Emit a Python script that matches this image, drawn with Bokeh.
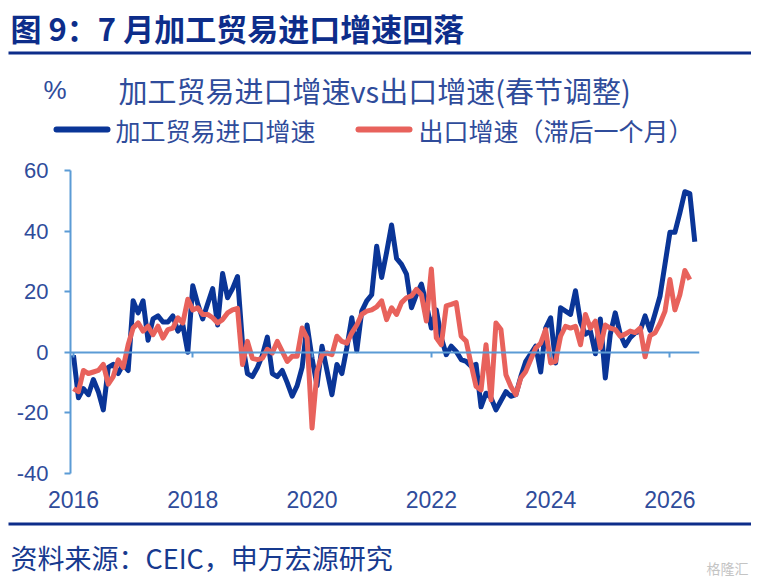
from bokeh.plotting import figure
from bokeh.layouts import column
from bokeh.models import Range1d, LinearAxis, FixedTicker, Label, BoxAnnotation
from bokeh.embed import file_html
from bokeh.resources import INLINE

# monthly series, index 0 = Jan 2016
processing_imports = [
    -1, -15, -12, -14, -9, -13, -19, -5, -4, -7, -4, -6,
    17, 13, 17, 4, 11, 12, 10, 10, 12, 7, 9, 0,
    22, 16, 11, 16, 21, 9, 26, 18, 21, 25, 3, -7,
    -8, -5, -1, 5, -7, -8, -6, -10, -14.5, -11, -5, 9,
    -2, -11, 2, -6, -14, -4, -7, 1.5, 11.4, 0.5, 13.6, 17,
    19, 35, 24.7, 33, 42, 31, 29, 25.8, 14.7, 19, 22.5, 15.8,
    8, 14, 4.8, -0.8, 2, 0.3, -2.4, -3, -4.6, -4, -18, -13.5,
    -15, -19, -16, -13, -14.5, -14, -8, -3, -0.5, 2, -6.5, 8,
    11.4, -3.5, 14.7, 13.6, 12.5, 20.3, 10, 6, 7, -0.5, 11, -8.5,
    6, 13, 6, 2.2, 4.8, 6.4, 7, 12, 7.2, 12.7, 18.5, 29,
    39.6, 39.6, 46, 53, 52.4, 36.5,
]
exports_lagged = [
    -12, -13, -6, -7, -6.5, -6, -4, -10.5, -8, -2.5, -5, 2.5,
    8, 9.7, 7, 8.6, 5.8, 8.6, 4.7, 7.5, 8, 11.4, 9.7, 17.5,
    14, 14.7, 12.5, 12.5, 11.4, 9.7, 10.8, 13, 14, 14.5, -4, 3.6,
    -2, -2.4, -2, 1, -0.2, 3.6, 0.3, -3, -1.3, -1.3, 8, 4.7,
    -25, -6.3, -0.8, -0.2, -0.8, 5.3, 3.6, 3, 6.4, 9, 12.5, 13.6,
    14, 15, 17, 10.8, 14.7, 12.5, 16.4, 18, 18.6, 20.8, 19, 10.3,
    27.5, 4.8, 2.5, 15.3, 15.8, 16.4, 5.3, 3.7, -4, -11.3, -12.4, 2.5,
    -15.7, 9.7, 7.5, -7.4, -11.3, -14, -8.5, -6.3, -2.4, 1.4, 3, 7.5,
    -3.5, -3, 5.3, 8.6, 8, 8.6, 2.5, 12.5, 8, 10.3, 1.5, 9,
    8, 7.5, 5.3, 6, 7, 6.5, 8, -1.5, 5.5, 6.4, 9.5, 13.5,
    24, 14, 19, 27, 24,
]
year_ticks = [0, 24, 48, 72, 96, 120]
year_labels = ["2016", "2018", "2020", "2022", "2024", "2026"]
y_ticks = [-40, -20, 0, 20, 40, 60]
y_labels = ["-40", "-20", "0", "20", "40", "60"]
series_names = ["加工贸易进口增速", "出口增速（滞后一个月）"]

NAVY = "#0d2d8a"
TEXT = "#2f4c9b"
AXIS = "#5b9bd5"
BLUE = "#0a3597"
RED = "#e8625c"
CJK = "Noto Sans CJK SC"
NUM = "Liberation Sans"
W = 751


def blank(height):
    # a figure whose frame is the whole canvas, y counted down from the top
    f = figure(width=W, height=height, output_backend="svg", toolbar_location=None,
               x_range=Range1d(0, W), y_range=Range1d(height, 0),
               x_axis_location=None, y_axis_location=None, min_border=0,
               frame_align=False)
    f.outline_line_color = None
    f.grid.visible = False
    return f


def bar(f, left, right, top, bottom, color, radius=0):
    f.add_layout(BoxAnnotation(left=left, right=right, top=top, bottom=bottom,
                               fill_color=color, fill_alpha=1, line_color=None,
                               border_radius=radius))


# ---- header: title, rule, chart title, legend
head = blank(150)
head.add_layout(Label(x=10, y=27, text="图 9：7 月加工贸易进口增速回落", text_font=CJK,
                      text_font_size="31px", text_font_style="bold",
                      text_color=NAVY, text_baseline="middle"))
bar(head, 8, W, 51, 54, NAVY)
head.add_layout(Label(x=43, y=89, text="%", text_font=NUM, text_font_size="26px",
                      text_color=TEXT, text_baseline="middle"))
head.add_layout(Label(x=118, y=89, text="加工贸易进口增速vs出口增速(春节调整)",
                      text_font=CJK, text_font_size="29px", text_color=TEXT,
                      text_baseline="middle"))
# legend keys
bar(head, 53, 110, 126, 132, BLUE, 3)
head.add_layout(Label(x=115, y=129, text=series_names[0], text_font=CJK,
                      text_font_size="25px", text_color=TEXT, text_baseline="middle"))
bar(head, 355, 412, 126, 132, RED, 3)
head.add_layout(Label(x=418, y=129, text=series_names[1], text_font=CJK,
                      text_font_size="25px", text_color=TEXT, text_baseline="middle"))

# ---- main chart
p = figure(width=W, height=368, output_backend="svg", toolbar_location=None,
           x_range=Range1d(-0.6, 125.95), y_range=Range1d(-40, 60),
           x_axis_location=None, min_border_left=70, min_border_right=52,
           min_border_top=20, min_border_bottom=45, frame_align=False)
p.outline_line_color = None
p.grid.visible = False

p.yaxis.ticker = FixedTicker(ticks=y_ticks)
p.yaxis.major_label_overrides = dict(zip(y_ticks, y_labels))
p.yaxis.axis_line_color = AXIS
p.yaxis.axis_line_width = 2
p.yaxis.major_tick_line_color = AXIS
p.yaxis.major_tick_line_width = 2
p.yaxis.major_tick_out = 6
p.yaxis.major_tick_in = 0
p.yaxis.minor_tick_line_color = None
p.yaxis.major_label_text_font = NUM
p.yaxis.major_label_text_font_size = "22px"
p.yaxis.major_label_text_color = TEXT
p.yaxis.major_label_standoff = 16

# axis line on zero, year labels at the bottom
zero_axis = LinearAxis(fixed_location=0, ticker=FixedTicker(ticks=year_ticks),
                       major_label_overrides={t: "" for t in year_ticks},
                       axis_line_color=AXIS, axis_line_width=2,
                       major_tick_line_color=AXIS, major_tick_line_width=2,
                       major_tick_out=5, major_tick_in=0,
                       minor_tick_line_color=None)
p.add_layout(zero_axis, "below")
label_axis = LinearAxis(ticker=FixedTicker(ticks=year_ticks),
                        major_label_overrides=dict(zip(year_ticks, year_labels)),
                        axis_line_color=None, major_tick_line_color=None,
                        minor_tick_line_color=None, major_label_standoff=11,
                        major_label_text_font=NUM, major_label_text_font_size="23px",
                        major_label_text_color=TEXT)
p.add_layout(label_axis, "below")

p.line(list(range(len(processing_imports))), processing_imports,
       line_color=BLUE, line_width=5, line_join="round")
p.line(list(range(len(exports_lagged))), exports_lagged,
       line_color=RED, line_width=5, line_join="round")

# ---- footer: rule, source
foot = blank(62)
bar(foot, 8, W, 4, 7, NAVY)
foot.add_layout(Label(x=10, y=39, text="资料来源：CEIC，申万宏源研究", text_font=CJK,
                      text_font_size="27px", text_color="#173a8f",
                      text_baseline="middle"))
foot.add_layout(Label(x=748, y=49, text="格隆汇", text_font=CJK, text_font_size="14px",
                      text_color="#c4c4c4", text_align="right", text_baseline="middle"))

page = column(head, p, foot, spacing=0)
open("out.html", "w").write(file_html(page, INLINE))
